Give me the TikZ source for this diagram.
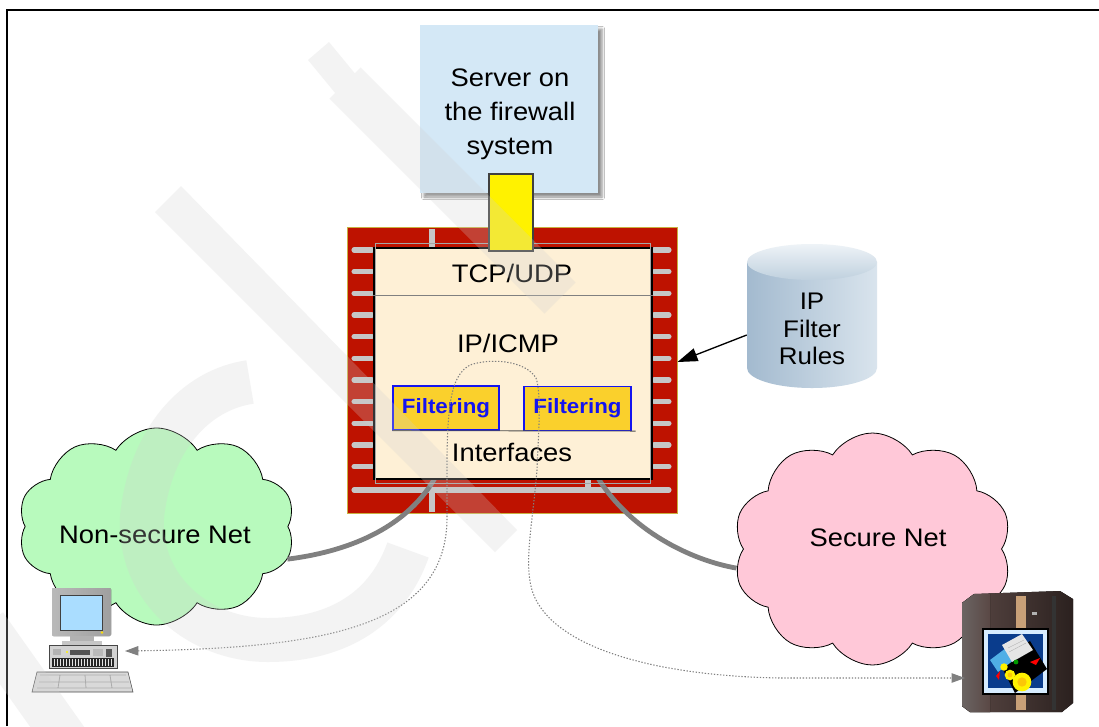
\documentclass[tikz,border=0pt]{standalone}
\usepackage{fontspec}
\setmainfont{Liberation Sans}[FakeStretch=1.08]
\usetikzlibrary{shapes.symbols,arrows.meta,shadows.blur,calc}

\definecolor{fwred}{HTML}{BE1200}
\definecolor{fwedge}{HTML}{C8B040}
\definecolor{cream}{HTML}{FEF0D6}
\definecolor{skyfill}{HTML}{D4E8F6}
\definecolor{brick}{HTML}{C6C6C6}
\definecolor{gold}{HTML}{FAD02C}
\definecolor{fblue}{HTML}{1414F0}
\definecolor{leafgreen}{HTML}{B8FABD}
\definecolor{rosepink}{HTML}{FFC8D8}
\definecolor{wire}{HTML}{808080}
\definecolor{cylL}{HTML}{A3BACF}
\definecolor{cylR}{HTML}{D9E4ED}
\definecolor{cylTopA}{HTML}{EEF3F7}
\definecolor{cylTopB}{HTML}{BFD0DE}
\definecolor{towerA}{HTML}{5A4845}
\definecolor{towerB}{HTML}{2B211F}
\definecolor{screenblue}{HTML}{AADDFF}
\definecolor{tan}{HTML}{C8A078}
\definecolor{paleblue}{HTML}{D7ECFF}
\definecolor{deepblue}{HTML}{0A3C8C}
\definecolor{stampgray}{HTML}{D0D0D0}

\begin{document}
\begin{tikzpicture}[x=0.75pt,y=-0.75pt,
  txt/.style={font=\fontsize{19}{25.5}\selectfont, align=center, inner sep=0pt},
  serverbox/.style={fill=skyfill, inner sep=0pt,
    blur shadow={shadow xshift=3pt, shadow yshift=-3pt, shadow blur radius=2pt, shadow opacity=45}},
  filterbox/.style={fill=gold, draw=fblue, line width=0.9pt, inner sep=0pt,
    minimum height=33pt, font=\fontsize{15.5}{17}\selectfont\bfseries, text=fblue},
  brickline/.style={brick, line width=3.8pt, line cap=round},
  brickjoint/.style={brick, line width=3.8pt},
  netcloud/.style={cloud, cloud puffs=10, cloud puff arc=115, draw=black, line width=0.6pt, inner sep=0pt},
  uplink/.style={wire, line width=3.6pt},
  trace/.style={draw=gray, line width=0.8pt, dash pattern=on 1pt off 1.3pt,
    {Triangle[length=10pt,width=7pt,fill=gray]}-{Triangle[length=10pt,width=7pt,fill=gray]}},
  stampband/.style={stampgray, line width=33pt}
]
\useasboundingbox (0,0) rectangle (1099,726);
\fill[white] (0,0) rectangle (1099,726);

% page frame
\draw[line width=1pt] (7,726) -- (7,10) -- (1099,10);

% server running on the firewall host
\node[serverbox, minimum width=133.5pt, minimum height=126pt] (srv) at (509,109) {};
\node[txt] (srvtext) at (510,114) {Server on\\the firewall\\system};

% networks
\node[netcloud, fill=leafgreen, minimum width=207.75pt, minimum height=147.75pt] (insecure) at (156.5,526.5) {};
\node[txt] (insecuretext) at (155,535) {Non-secure Net};
\node[netcloud, fill=rosepink, minimum width=209.25pt, minimum height=174pt] (secure) at (872.5,549) {};
\node[txt] (securetext) at (878,538) {Secure Net};

% firewall wall with its bricks
\node[fill=fwred, draw=fwedge, line width=0.75pt, minimum width=247.5pt, minimum height=214.5pt, inner sep=0pt] (fw) at (512,370) {};
\foreach \y in {250,271.7,293.3,315,336.7,358.3,380,401.7,423.3,445,466.7}{
  \draw[brickline] (354,\y) -- (372,\y);
  \draw[brickline] (654,\y) -- (669,\y);
}
\draw[brickline] (354,490) -- (669,490);
\draw[brickjoint] (432,229) -- (432,247);
\draw[brickjoint] (432,491) -- (432,512);
\draw[brickjoint] (588,479) -- (588,489);

% links from the interfaces to the networks
\coordinate (portL) at (435,478);
\coordinate (portR) at (598,478);
\draw[uplink] (portL) .. controls (405,530) and (345,552) .. (insecure.-14);
\draw[uplink] (portR) .. controls (630,530) and (690,560) .. (secure.188);

% protocol stack
\node[fill=cream, draw=black, line width=2pt, minimum width=208.5pt, minimum height=173.25pt, inner sep=0pt] (stack) at (513,363.5) {};
\draw[gray!70, line width=1pt] ([shift={(2.2pt,-2.2pt)}]stack.south west) rectangle ([shift={(-2.2pt,2.2pt)}]stack.north east);
\draw[gray, line width=0.7pt] (stack.west |- 0,295) -- (stack.east |- 0,295);
\node[txt] (tcp) at (512,273) {TCP/UDP};
\node[txt] (ip) at (508,343) {IP/ICMP};
\node[txt] (ifc) at (512,452) {Interfaces};
\node[filterbox, minimum width=79.5pt] (fl) at (446,408) {Filtering};
\node[filterbox, minimum width=80.25pt] (fr) at (577.5,408.5) {Filtering};
\draw[gray!60!black, line width=0.6pt] (fl.south west) -- ([xshift=3pt]fr.south east);

% socket joining server and stack
\node[fill=yellow, draw=black!75, line width=1pt, minimum width=33pt, minimum height=57.75pt, inner sep=0pt] (sock) at (511,212.5) {};

% filter rule database
\node[minimum width=97.5pt, minimum height=109.5pt, inner sep=0pt] (rules) at (812,315) {};
\path[left color=cylL, right color=cylR] (747,262) -- (747,368)
  arc[start angle=180, end angle=360, x radius=48.75pt, y radius=15pt] -- (877,262) -- cycle;
\path[top color=cylTopA, bottom color=cylTopB] (812,262) ellipse [x radius=48.75pt, y radius=13.5pt];
\node[txt, font=\fontsize{18}{20.6}\selectfont] (rulestext) at (812,329) {IP\\Filter\\Rules};
\draw[line width=1pt, -{Triangle[length=15pt,width=10pt]}] (rules.west |- 0,335) -- ([yshift=6pt]fw.east);

% workstation
\node[minimum width=69.75pt, minimum height=78.75pt, inner sep=0pt] (pc) at (78.5,639.5) {};
\fill[rounded corners=1pt, left color=gray!55, right color=gray!75] (52,588) rectangle (111,636);
\draw[gray!50!black, fill=screenblue] (60,595) rectangle (102,630);
\fill[yellow!80!orange] (102,632.5) circle[radius=1pt];
\fill[gray!60] (70,636) rectangle (94,641);
\fill[gray!45] (62,641) rectangle (102,645);
\draw[gray!55!black, fill=gray!35, line width=0.4pt] (49,645) rectangle (117,668);
\fill[gray!60] (53,649) rectangle (61,655);
\fill[gray!65!black] (70,650) rectangle (90,655);
\fill[yellow] (67,652) circle[radius=0.8pt];
\fill[gray!55] (93,649) rectangle (103,656);
\fill[gray!70!black] (106,649) rectangle (112,657);
\fill[black!85] (52,658) rectangle (114,667);
\foreach \x in {54,57,...,112}{\draw[white!80!gray, line width=0.5pt] (\x,659) -- (\x,666);}
\draw[gray!60!black, fill=gray!30, line width=0.4pt] (37,672) -- (128,672) -- (133,692) -- (32,692) -- cycle;
\draw[gray!65, line width=0.6pt] (40,675) -- (126,675) (39,682) -- (129,682) (37,688) -- (131,688)
  (60,675) -- (58,688) (85,675) -- (86,688) (110,675) -- (112,688);

% host system
\node[minimum width=83.25pt, minimum height=91.5pt, inner sep=0pt] (host) at (1017.5,651) {};
\fill[left color=towerA, right color=towerB] (962,603) -- (974,594) -- (1060,591) -- (1073,599) -- (1073,703) -- (1062,712) -- (970,712) -- (962,706) -- cycle;
\fill[left color=towerB!70, right color=towerA] (962,603) -- (974,594) -- (990,594) -- (990,712) -- (970,712) -- (962,706) -- cycle;
\fill[black!80] (1052,596) rectangle (1056,710);
\fill[tan] (1016,596) rectangle (1026,628);
\fill[tan] (1016,695) rectangle (1026,710);
\fill[gray!60] (1032,612) rectangle (1037,615);
\fill[black] (982,628) rectangle (1049,695);
\fill[paleblue] (984,630) rectangle (1047,693);
\fill[deepblue] (988,634) rectangle (1043,688);
\fill[black] (998,660) -- (1030,641) -- (1047,669) -- (1015,693) -- cycle;
\fill[cyan!80!blue!70] (990,660) -- (1010,645) -- (1018,657) -- (998,672) -- cycle;
\fill[gray!20] (1002,645) -- (1022,634) -- (1033,650) -- (1012,662) -- cycle;
\draw[gray!60, line width=0.3pt] (1008,648) -- (1024,640) (1009,652) -- (1026,643);
\fill[red] (1030,662) -- (1040,658) -- (1036,665) -- cycle;
\fill[red] (996,676) -- (1000,671) -- (999,680) -- cycle;
\fill[green!60!black] (1016,662) circle[radius=1.8pt];
\fill[yellow] (1022,682) circle[radius=7pt];
\fill[yellow!60!orange] (1022,682) circle[radius=3.5pt];
\fill[yellow] (1010,675) circle[radius=4pt];
\fill[yellow!60!orange] (1010,675) circle[radius=1.8pt];
\fill[yellow] (1004,667) circle[radius=2.8pt];

% packet path through the filters
\coordinate (pcport) at (125,651);
\coordinate (hostport) at (965,678);
\draw[trace] (pcport) .. controls (330,648) and (445,625) .. (447,520) -- (447,455)
  .. controls (448,400) and (452,375) .. (470,365)
  .. controls (490,358) and (525,360) .. (536,378)
  .. controls (542,395) and (538,440) .. (537,470)
  .. controls (532,530) and (522,570) .. (535,598)
  .. controls (560,650) and (660,676) .. (780,678) -- (hostport);

% faint stamp strokes laid over the page
\begin{scope}[transparency group, opacity=0.25]
  \clip (0,0) rectangle (1099,726);
  \fill[stampgray] (308,60) -- (329,42) -- (371,93) -- (350,111) -- cycle;
  \fill[stampgray] (155,212) -- (181,186) -- (517,530) -- (495,552) -- cycle;
  \draw[stampband] (250,382) .. controls (195,390) and (150,440) .. (142,517)
    .. controls (138,590) and (200,640) .. (268,640)
    .. controls (330,640) and (385,615) .. (408,550);
  \draw[stampband] (-15,625) -- (70,745);
  \draw[stampband] (345,83) -- (560,298);
\end{scope}
\end{tikzpicture}
\end{document}
